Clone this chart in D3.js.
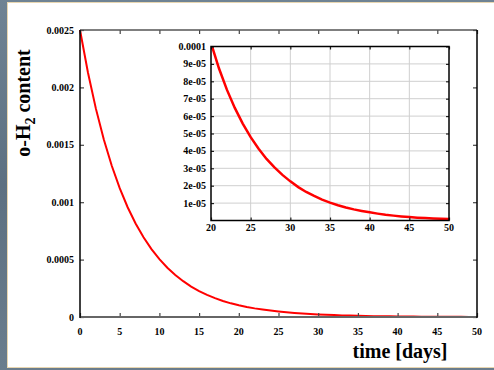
<!DOCTYPE html>
<html lang="en">
<head>
<meta charset="utf-8">
<title>o-H2 content decay</title>
<script src="https://cdn.jsdelivr.net/npm/d3@7"></script>
<style>
  body { margin: 0; padding: 0; background: #fff; }
  svg text { font-family: "Liberation Serif", "DejaVu Serif", serif; font-weight: bold; fill: #000; }
</style>
</head>
<body>
<script>
// chart data: time in days and o-H2 content
var days = [0, 1, 2, 3, 4, 5, 6, 7, 8, 9, 10, 11, 12, 13, 14, 15, 16, 17, 18, 19, 20,
            21, 22, 23, 24, 25, 26, 27, 28, 29, 30, 31, 32, 33, 34, 35, 36, 37, 38, 39, 40,
            41, 42, 43, 44, 45, 46, 47, 48, 49, 50];
var content = [2.5e-3, 2.13e-3, 1.815e-3, 1.546e-3, 1.317e-3, 1.122e-3, 9.56e-4, 8.15e-4, 6.94e-4, 5.91e-4,
               5.04e-4, 4.29e-4, 3.66e-4, 3.12e-4, 2.65e-4, 2.26e-4, 1.93e-4, 1.64e-4, 1.40e-4, 1.19e-4,
               1.02e-4, 8.75e-5, 7.52e-5, 6.47e-5, 5.57e-5, 4.79e-5, 4.12e-5, 3.54e-5, 3.05e-5, 2.62e-5,
               2.25e-5, 1.92e-5, 1.64e-5, 1.41e-5, 1.20e-5, 1.03e-5, 8.8e-6, 7.5e-6, 6.4e-6, 5.5e-6,
               4.7e-6, 3.95e-6, 3.3e-6, 2.8e-6, 2.35e-6, 1.97e-6, 1.65e-6, 1.39e-6, 1.17e-6, 0.98e-6, 0.82e-6];

// tick labels
var mainXTicks = [0, 5, 10, 15, 20, 25, 30, 35, 40, 45, 50];
var mainYTicks = [0, 0.0005, 0.001, 0.0015, 0.002, 0.0025];
var mainYLabels = ["0", "0.0005", "0.001", "0.0015", "0.002", "0.0025"];
var insetXTicks = [20, 25, 30, 35, 40, 45, 50];
var insetYTicks = [1e-5, 2e-5, 3e-5, 4e-5, 5e-5, 6e-5, 7e-5, 8e-5, 9e-5, 1e-4];
var insetYLabels = ["1e-05", "2e-05", "3e-05", "4e-05", "5e-05", "6e-05", "7e-05", "8e-05", "9e-05", "0.0001"];

var w = 494, h = 370;
var pts = days.map(function(d, i) { return [d, content[i]]; });

var svg = d3.select("body").append("svg")
  .attr("width", w).attr("height", h);

// slide background frame
var defs = svg.append("defs");
var grad = defs.append("linearGradient").attr("id", "band").attr("x1", 0).attr("y1", 0).attr("x2", 0).attr("y2", 1);
grad.append("stop").attr("offset", "0").attr("stop-color", "#6f8394");
grad.append("stop").attr("offset", "0.5").attr("stop-color", "#5d7081");
grad.append("stop").attr("offset", "1").attr("stop-color", "#6a7d8d");

svg.append("rect").attr("width", w).attr("height", h).attr("fill", "url(#band)");
svg.append("rect").attr("x", 7).attr("y", 2).attr("width", w - 7).attr("height", 366).attr("fill", "#e8d6b0");
svg.append("rect").attr("x", 8).attr("y", 3).attr("width", w - 8).attr("height", 364).attr("fill", "#fff");

// main plot
var x = d3.scaleLinear().domain([0, 50]).range([80, 477]);
var y = d3.scaleLinear().domain([0, 0.0025]).range([317, 30]);

var main = svg.append("g");

main.append("path")
  .datum(pts)
  .attr("fill", "none")
  .attr("stroke", "#ff0000")
  .attr("stroke-width", 2)
  .attr("d", d3.line().x(function(d) { return x(d[0]); }).y(function(d) { return y(d[1]); }));

// ticks pointing inward on all four sides
main.append("g").attr("transform", "translate(0,317)")
  .call(d3.axisTop(x).tickValues(mainXTicks).tickSize(4).tickFormat(""))
  .call(function(g) { g.select(".domain").remove(); });
main.append("g").attr("transform", "translate(0,30)")
  .call(d3.axisBottom(x).tickValues(mainXTicks).tickSize(4).tickFormat(""))
  .call(function(g) { g.select(".domain").remove(); });
main.append("g").attr("transform", "translate(80,0)")
  .call(d3.axisRight(y).tickValues(mainYTicks).tickSize(4).tickFormat(""))
  .call(function(g) { g.select(".domain").remove(); });
main.append("g").attr("transform", "translate(477,0)")
  .call(d3.axisLeft(y).tickValues(mainYTicks).tickSize(4).tickFormat(""))
  .call(function(g) { g.select(".domain").remove(); });
main.selectAll(".tick line").attr("stroke", "#444").attr("stroke-width", 1.2);

// border
main.append("line").attr("x1", 80).attr("x2", 477).attr("y1", 30).attr("y2", 30).attr("stroke", "#555").attr("stroke-width", 1.5);
main.append("line").attr("x1", 80).attr("x2", 477).attr("y1", 317).attr("y2", 317).attr("stroke", "#666").attr("stroke-width", 2);
main.append("line").attr("x1", 80).attr("x2", 80).attr("y1", 30).attr("y2", 318).attr("stroke", "#000").attr("stroke-width", 1.5);
main.append("line").attr("x1", 477).attr("x2", 477).attr("y1", 30).attr("y2", 318).attr("stroke", "#000").attr("stroke-width", 1.5);

main.selectAll(".xlab").data(mainXTicks).enter().append("text")
  .attr("x", function(d) { return x(d); }).attr("y", 335)
  .attr("text-anchor", "middle").attr("font-size", 10).text(function(d) { return d; });
main.selectAll(".ylab").data(mainYTicks).enter().append("text")
  .attr("x", 74).attr("y", function(d) { return y(d) + 3.5; })
  .attr("text-anchor", "end").attr("font-size", 10).text(function(d, i) { return mainYLabels[i]; });

// axis titles
main.append("text").attr("x", 400).attr("y", 358).attr("text-anchor", "middle")
  .attr("font-size", 20).text("time [days]");
var yt = main.append("text").attr("transform", "translate(30,103) rotate(-90)")
  .attr("text-anchor", "middle").attr("font-size", 20);
yt.append("tspan").text("o-H");
yt.append("tspan").attr("font-size", 14).attr("dy", 5).text("2");
yt.append("tspan").attr("dy", -5).text(" content");

// inset
var xi = d3.scaleLinear().domain([20, 50]).range([211, 449]);
var yi = d3.scaleLinear().domain([0, 0.0001]).range([220.5, 46.5]);
var inset = svg.append("g");

inset.append("rect").attr("x", 211).attr("y", 46.5).attr("width", 238).attr("height", 174).attr("fill", "#fff");

inset.append("g").selectAll("line").data(insetXTicks.slice(1, -1)).enter().append("line")
  .attr("x1", function(d) { return xi(d); }).attr("x2", function(d) { return xi(d); })
  .attr("y1", 46.5).attr("y2", 220.5).attr("stroke", "#cfcfcf").attr("stroke-width", 1);
inset.append("g").selectAll("line").data(insetYTicks.slice(0, -1)).enter().append("line")
  .attr("x1", 211).attr("x2", 449)
  .attr("y1", function(d) { return yi(d); }).attr("y2", function(d) { return yi(d); })
  .attr("stroke", "#cfcfcf").attr("stroke-width", 1);

defs.append("clipPath").attr("id", "insetclip").append("rect")
  .attr("x", 211).attr("y", 46.5).attr("width", 238).attr("height", 174);

inset.append("path")
  .datum(pts.filter(function(d) { return d[0] >= 19; }))
  .attr("clip-path", "url(#insetclip)")
  .attr("fill", "none")
  .attr("stroke", "#ff0000")
  .attr("stroke-width", 2.5)
  .attr("d", d3.line().x(function(d) { return xi(d[0]); }).y(function(d) { return yi(d[1]); }));

inset.append("g").attr("transform", "translate(0,220.5)")
  .call(d3.axisTop(xi).tickValues(insetXTicks).tickSize(3).tickFormat(""))
  .call(function(g) { g.select(".domain").remove(); });
inset.append("g").attr("transform", "translate(0,46.5)")
  .call(d3.axisBottom(xi).tickValues(insetXTicks).tickSize(3).tickFormat(""))
  .call(function(g) { g.select(".domain").remove(); });
inset.append("g").attr("transform", "translate(211,0)")
  .call(d3.axisRight(yi).tickValues(insetYTicks).tickSize(3).tickFormat(""))
  .call(function(g) { g.select(".domain").remove(); });
inset.append("g").attr("transform", "translate(449,0)")
  .call(d3.axisLeft(yi).tickValues(insetYTicks).tickSize(3).tickFormat(""))
  .call(function(g) { g.select(".domain").remove(); });
inset.selectAll(".tick line").attr("stroke", "#222").attr("stroke-width", 1.2);

inset.append("rect").attr("x", 211).attr("y", 46.5).attr("width", 238).attr("height", 174)
  .attr("fill", "none").attr("stroke", "#000").attr("stroke-width", 1.5);

inset.selectAll(".xlab").data(insetXTicks).enter().append("text")
  .attr("x", function(d) { return xi(d); }).attr("y", 231)
  .attr("text-anchor", "middle").attr("font-size", 10).text(function(d) { return d; });
inset.selectAll(".ylab").data(insetYTicks).enter().append("text")
  .attr("x", 206).attr("y", function(d) { return yi(d) + 3.5; })
  .attr("text-anchor", "end").attr("font-size", 10).text(function(d, i) { return insetYLabels[i]; });
</script>
</body>
</html>
